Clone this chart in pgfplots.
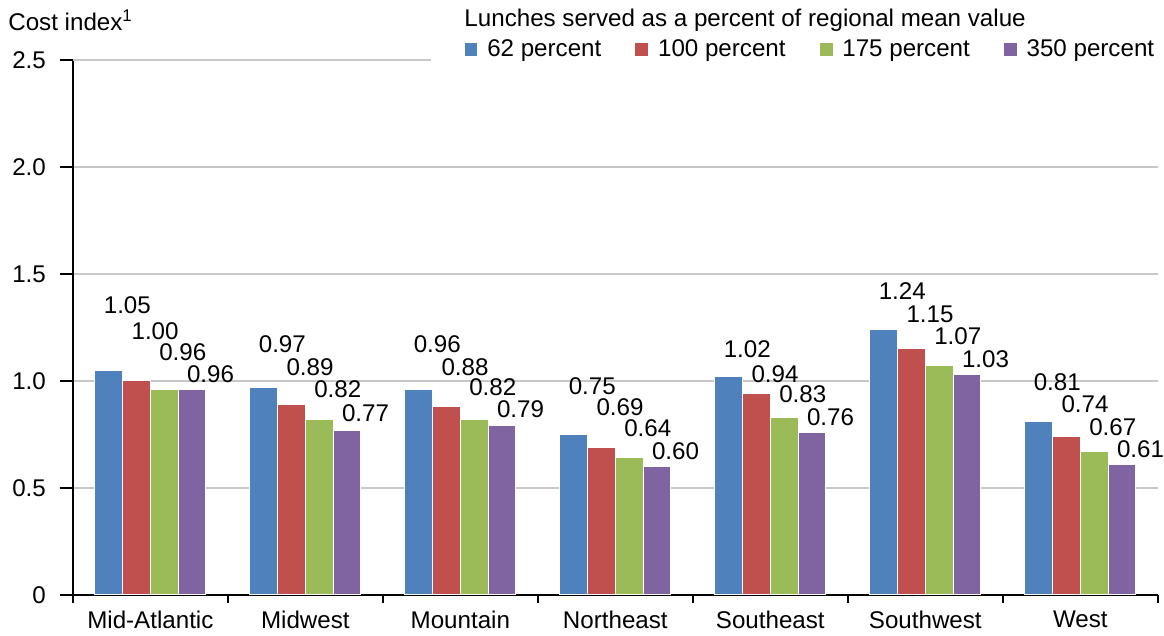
\documentclass[border=0pt]{standalone}
\usepackage{fontspec}
\setmainfont{Liberation Sans}
\usepackage{pgfplots}
\usepackage{pgfplotstable}
\pgfplotsset{compat=1.18}
\definecolor{cBlue}{HTML}{4F81BD}
\definecolor{cRed}{HTML}{C0504D}
\definecolor{cGreen}{HTML}{9BBB59}
\definecolor{cPurple}{HTML}{8064A2}
\definecolor{gridc}{HTML}{C8C8C8}
\newcommand\lab{\fontsize{12.1}{14.5}\selectfont}
% x: category index, v: value, ly: label height
\pgfplotstableread{
x v ly
0 1.05 1.353
1 0.97 1.171
2 0.96 1.171
3 0.75 0.975
4 1.02 1.147
5 1.24 1.418
6 0.81 0.993
}\tA
\pgfplotstableread{
x v ly
0 1.00 1.231
1 0.89 1.063
2 0.88 1.063
3 0.69 0.877
4 0.94 1.031
5 1.15 1.311
6 0.74 0.891
}\tB
\pgfplotstableread{
x v ly
0 0.96 1.133
1 0.82 0.961
2 0.82 0.970
3 0.64 0.779
4 0.83 0.938
5 1.07 1.208
6 0.67 0.784
}\tC
\pgfplotstableread{
x v ly
0 0.96 1.031
1 0.77 0.849
2 0.79 0.868
3 0.60 0.672
4 0.76 0.830
5 1.03 1.101
6 0.61 0.681
}\tD
\begin{document}
\begin{tikzpicture}
\begin{axis}[
  width=543.5pt, height=268pt, scale only axis,
  xmin=-0.5, xmax=6.5, ymin=0, ymax=2.5,
  axis x line*=bottom, axis y line*=left,
  axis line style={black, line width=1pt},
  clip=false,
  font=\lab,
  /pgf/number format/assume math mode=true,
  xtick={0,...,6},
  xticklabels={Mid-Atlantic,Midwest,Mountain,Northeast,Southeast,Southwest,West},
  major x tick style={draw=none},
  minor xtick={-0.5,0.5,...,6.5},
  minor x tick style={black, line width=1pt},
  minor tick length=4pt,
  ytick={0,0.5,1.0,1.5,2.0},
  yticklabels={0,0.5,1.0,1.5,2.0},
  extra y ticks={2.5}, extra y tick labels={2.5},
  extra y tick style={grid=none},
  major tick length=6.5pt,
  tick align=outside,
  y tick style={black, line width=1pt},
  ymajorgrids,
  grid style={gridc, line width=0.75pt},
  ticklabel style={font=\lab},
  yticklabel style={xshift=-3.5pt},
  xticklabel style={yshift=2pt},
  legend columns=4,
  legend style={at={(axis description cs:0.3597,1.0187)}, anchor=west,
    draw=none, fill=none, inner sep=0pt, font=\lab,
    /tikz/every even column/.append style={column sep=14.5pt}},
  legend image code/.code={\fill[#1] (0pt,-3.5pt) rectangle (7pt,3.5pt); \path (9.5pt,0pt);},
]
\draw[gridc, line width=0.75pt] (axis cs:-0.5,2.5) -- (axis cs:1.81,2.5);
\addplot[ybar, bar width=0.179, bar shift=-0.2685, fill=cBlue, draw=white, line width=0.4pt] table[x=x,y=v] {\tA};
\addlegendentry{62 percent}
\addplot[ybar, bar width=0.179, bar shift=-0.0895, fill=cRed, draw=white, line width=0.4pt] table[x=x,y=v] {\tB};
\addlegendentry{100 percent}
\addplot[ybar, bar width=0.179, bar shift=0.0895, fill=cGreen, draw=white, line width=0.4pt] table[x=x,y=v] {\tC};
\addlegendentry{175 percent}
\addplot[ybar, bar width=0.179, bar shift=0.2685, fill=cPurple, draw=white, line width=0.4pt] table[x=x,y=v] {\tD};
\addlegendentry{350 percent}
\pgfplotsset{labstyle/.style={draw=none, mark=none, forget plot, nodes near coords, point meta=explicit symbolic,
  every node near coord/.style={anchor=center, inner sep=0pt, font=\lab, text=black}}}
\addplot[labstyle] table[x expr=\thisrow{x}-0.1485, y=ly, meta=v] {\tA};
\addplot[labstyle] table[x expr=\thisrow{x}+0.0305, y=ly, meta=v] {\tB};
\addplot[labstyle] table[x expr=\thisrow{x}+0.2095, y=ly, meta=v] {\tC};
\addplot[labstyle] table[x expr=\thisrow{x}+0.3885, y=ly, meta=v] {\tD};
\node[anchor=west, inner sep=0pt, font=\lab] at (axis description cs:-0.0598,1.0746) {Cost index\textsuperscript{1}};
\node[anchor=west, inner sep=0pt, font=\lab] at (axis description cs:0.3606,1.0746) {Lunches served as a percent of regional mean value};
\path (rel axis cs:0,0) ++(-36.5pt,-18pt) rectangle ++(582pt,316pt);
\end{axis}
\end{tikzpicture}
\end{document}
